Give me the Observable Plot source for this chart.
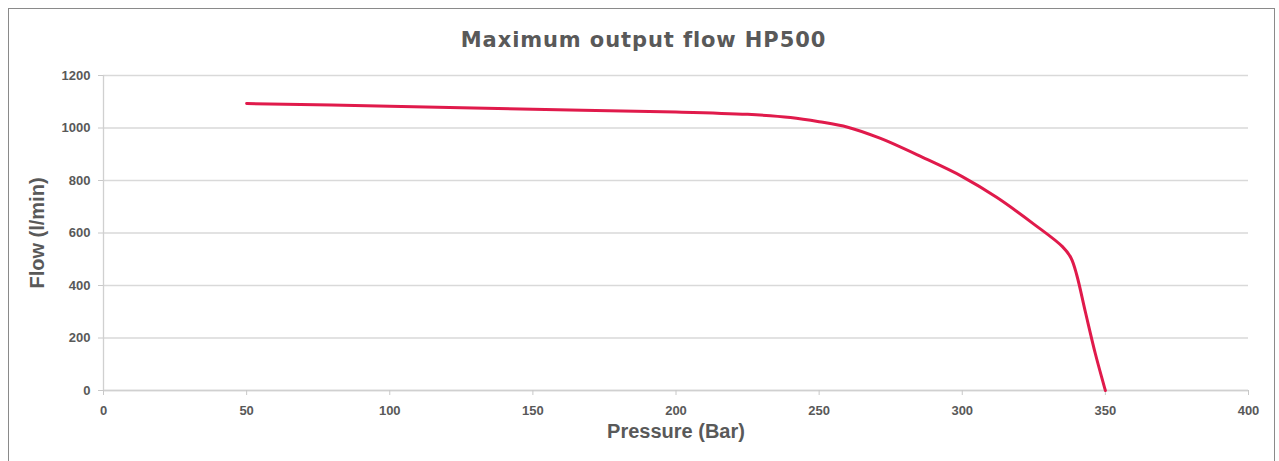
<!DOCTYPE html>
<html>
<head>
<meta charset="utf-8">
<script src="https://cdn.jsdelivr.net/npm/d3@7"></script>
<script src="https://cdn.jsdelivr.net/npm/@observablehq/plot@0.6"></script>
<style>
  html, body { margin: 0; padding: 0; background: #fff; }
  body { width: 1279px; height: 461px; overflow: hidden; position: relative; font-family: "Liberation Sans", Arial, sans-serif; }
  #frame { position: absolute; left: 8px; top: 8px; width: 1267px; height: 470px; border: 1.5px solid #8a8a8a; border-bottom: none; box-sizing: border-box; }
  #title { position: absolute; left: 0; top: 0; width: 1287px; height: 60px; text-align: center; line-height: 80px; font-family: "DejaVu Sans", sans-serif; font-size: 21px; font-weight: bold; color: #595959; letter-spacing: 0.9px; }
  #chart { position: absolute; left: 0; top: 60px; }
</style>
</head>
<body>
<div id="frame"></div>
<div id="title">Maximum output flow HP500</div>
<div id="chart"></div>
<script>
const pressure = [50, 100, 150, 200, 225, 240, 250, 260, 271, 286, 300, 312, 325, 335, 338, 340, 343, 346.5, 350];
const flow     = [1093, 1083, 1071, 1061, 1052, 1040, 1024, 1003, 962, 889, 815, 736, 634, 548, 505, 440, 300, 140, 0];
const xTicks = [0, 50, 100, 150, 200, 250, 300, 350, 400];
const yTicks = [0, 200, 400, 600, 800, 1000, 1200];

const data = pressure.map((p, i) => ({pressure: p, flow: flow[i]}));

const gray = "#595959";
const chart = Plot.plot({
  width: 1279,
  height: 401,
  marginLeft: 103,
  marginRight: 31,
  marginTop: 15,
  marginBottom: 71,
  style: {fontFamily: "Liberation Sans, Arial, sans-serif", background: "transparent", color: gray},
  x: {domain: [0, 400], ticks: xTicks, label: null},
  y: {domain: [0, 1200], ticks: yTicks, label: null},
  marks: [
    Plot.gridY(yTicks, {stroke: "#d9d9d9", strokeOpacity: 1, strokeWidth: 1.3}),
    Plot.ruleX([0], {stroke: "#d0d0d0", strokeWidth: 1.3}),
    Plot.ruleY([0], {stroke: "#d0d0d0", strokeWidth: 1.3}),
    Plot.axisX({ticks: xTicks, tickFormat: d => String(d), tickSize: 5, tickPadding: 10, stroke: "#c8c8c8", fontSize: 13, fontWeight: "bold", fill: gray, label: null}),
    Plot.axisY({ticks: yTicks, tickFormat: d => String(d), tickSize: 5, tickPadding: 8, stroke: "#c8c8c8", fontSize: 13, fontWeight: "bold", fill: gray, label: null}),
    Plot.line(data, {x: "pressure", y: "flow", stroke: "#e01a4b", strokeWidth: 3, curve: "catmull-rom"}),
    Plot.text(["Pressure (Bar)"], {frameAnchor: "bottom", dy: 47, fontSize: 20, fontWeight: "bold", fill: gray, text: d => d, x: 200}),
    Plot.text(["Flow (l/min)"], {frameAnchor: "left", textAnchor: "middle", dx: -66, rotate: -90, fontSize: 20, fontWeight: "bold", fill: gray, text: d => d})
  ]
});
document.getElementById("chart").appendChild(chart);
</script>
</body>
</html>
